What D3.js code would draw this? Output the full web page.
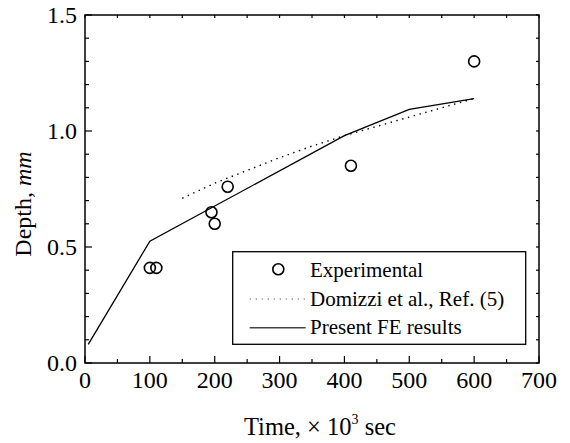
<!DOCTYPE html>
<html>
<head>
<meta charset="utf-8">
<script src="https://cdn.jsdelivr.net/npm/d3@7"></script>
<style>
  body { margin: 0; background: #fff; }
  text { font-family: "Liberation Serif", "Times New Roman", serif; fill: #000; }
</style>
</head>
<body>
<div id="chart"></div>
<script>
// experimental points (time in 10^3 s, depth in mm)
var expTime  = [100, 110, 195, 200, 220, 410, 600];
var expDepth = [0.41, 0.41, 0.65, 0.60, 0.76, 0.85, 1.30];

// Domizzi et al., Ref. (5)
var refTime  = [150, 200, 250, 300, 350, 400, 450, 500, 550, 600];
var refDepth = [0.71, 0.775, 0.83, 0.885, 0.935, 0.98, 1.02, 1.06, 1.10, 1.14];

// present FE results
var feTime  = [5, 100, 400, 500, 600];
var feDepth = [0.08, 0.525, 0.98, 1.093, 1.14];

var xTicks = [0, 100, 200, 300, 400, 500, 600, 700];
var yTicks = [0.0, 0.5, 1.0, 1.5];
var legendLabels = ["Experimental", "Domizzi et al., Ref. (5)", "Present FE results"];

var margin = {top: 15, right: 31, bottom: 80, left: 85},
    width = 570 - margin.left - margin.right,
    height = 443 - margin.top - margin.bottom;

var svg = d3.select("#chart").append("svg")
    .attr("width", 570)
    .attr("height", 443)
  .append("g")
    .attr("transform", "translate(" + margin.left + "," + margin.top + ")");

var x = d3.scaleLinear().domain([0, 700]).range([0, width]);
var y = d3.scaleLinear().domain([0, 1.5]).range([height, 0]);

// frame
svg.append("rect")
    .attr("width", width)
    .attr("height", height)
    .style("fill", "none")
    .style("stroke", "#000")
    .style("stroke-width", 1.5);

// inward ticks
var xMinor = d3.range(0, 701, 50),
    yMinor = d3.range(0, 15.01, 1).map(function(d) { return d / 10; });

svg.selectAll(".xtick-b")
    .data(xMinor)
  .enter().append("line")
    .attr("x1", function(d) { return x(d); })
    .attr("x2", function(d) { return x(d); })
    .attr("y1", height)
    .attr("y2", function(d) { return height - (d % 100 === 0 ? 7 : 4); })
    .style("stroke", "#000").style("stroke-width", 1.2);

svg.selectAll(".xtick-t")
    .data(xMinor)
  .enter().append("line")
    .attr("x1", function(d) { return x(d); })
    .attr("x2", function(d) { return x(d); })
    .attr("y1", 0)
    .attr("y2", 3)
    .style("stroke", "#000").style("stroke-width", 1.2);

svg.selectAll(".ytick-l")
    .data(yMinor)
  .enter().append("line")
    .attr("x1", 0)
    .attr("x2", function(d, i) { return i % 5 === 0 ? 7 : 4; })
    .attr("y1", function(d) { return y(d); })
    .attr("y2", function(d) { return y(d); })
    .style("stroke", "#000").style("stroke-width", 1.2);

svg.selectAll(".ytick-r")
    .data(yMinor)
  .enter().append("line")
    .attr("x1", width)
    .attr("x2", width - 3)
    .attr("y1", function(d) { return y(d); })
    .attr("y2", function(d) { return y(d); })
    .style("stroke", "#000").style("stroke-width", 1.2);

// tick labels
svg.selectAll(".xlabel")
    .data(xTicks)
  .enter().append("text")
    .attr("x", function(d) { return x(d); })
    .attr("y", height + 25)
    .attr("text-anchor", "middle")
    .style("font-size", "24px")
    .text(function(d) { return d; });

svg.selectAll(".ylabel")
    .data(yTicks)
  .enter().append("text")
    .attr("x", -8)
    .attr("y", function(d) { return y(d); })
    .attr("dy", ".35em")
    .attr("text-anchor", "end")
    .style("font-size", "24px")
    .text(function(d) { return d.toFixed(1); });

// axis titles
var xt = svg.append("text")
    .attr("x", 320 - margin.left)
    .attr("y", height + 72)
    .attr("text-anchor", "middle")
    .style("font-size", "24.5px");
xt.append("tspan").text("Time, \u00d7 10");
xt.append("tspan").attr("dy", -11).style("font-size", "14px").text("3");
xt.append("tspan").attr("dy", 11).text(" sec");

var yt = svg.append("text")
    .attr("transform", "rotate(-90)")
    .attr("x", -(204 - margin.top))
    .attr("y", 31 - margin.left)
    .attr("text-anchor", "middle")
    .style("font-size", "24px");
yt.append("tspan").text("Depth, ");
yt.append("tspan").style("font-style", "italic").text("mm");

// lines
var refLine = d3.line()
    .x(function(d, i) { return x(refTime[i]); })
    .y(function(d) { return y(d); });

svg.append("path")
    .attr("d", refLine(refDepth))
    .style("fill", "none")
    .style("stroke", "#000")
    .style("stroke-width", 1.4)
    .style("stroke-dasharray", "1.4,4.6");

var feLine = d3.line()
    .x(function(d, i) { return x(feTime[i]); })
    .y(function(d) { return y(d); });

svg.append("path")
    .attr("d", feLine(feDepth))
    .style("fill", "none")
    .style("stroke", "#000")
    .style("stroke-width", 1.3);

// experimental circles
svg.selectAll(".pt")
    .data(expDepth)
  .enter().append("circle")
    .attr("cx", function(d, i) { return x(expTime[i]); })
    .attr("cy", function(d) { return y(d); })
    .attr("r", 5.5)
    .style("fill", "none")
    .style("stroke", "#000")
    .style("stroke-width", 1.6);

// legend
var legend = svg.append("g")
    .attr("transform", "translate(" + (232.7 - margin.left) + "," + (251.7 - margin.top) + ")");

legend.append("rect")
    .attr("width", 293)
    .attr("height", 92.6)
    .style("fill", "#fff")
    .style("stroke", "#000")
    .style("stroke-width", 1.3);

legend.append("circle")
    .attr("cx", 45.6)
    .attr("cy", 17.6)
    .attr("r", 5.5)
    .style("fill", "none")
    .style("stroke", "#000")
    .style("stroke-width", 1.6);

legend.append("line")
    .attr("x1", 17).attr("x2", 76)
    .attr("y1", 47.3).attr("y2", 47.3)
    .style("stroke", "#555")
    .style("stroke-width", 1.2)
    .style("stroke-dasharray", "1.2,4.8");

legend.append("line")
    .attr("x1", 17).attr("x2", 73)
    .attr("y1", 76).attr("y2", 76)
    .style("stroke", "#444")
    .style("stroke-width", 1.4);

legend.selectAll(".lg")
    .data(legendLabels)
  .enter().append("text")
    .attr("x", 77.3)
    .attr("y", function(d, i) { return 25.6 + i * 28.5; })
    .style("font-size", "21px")
    .text(function(d) { return d; });
</script>
</body>
</html>
